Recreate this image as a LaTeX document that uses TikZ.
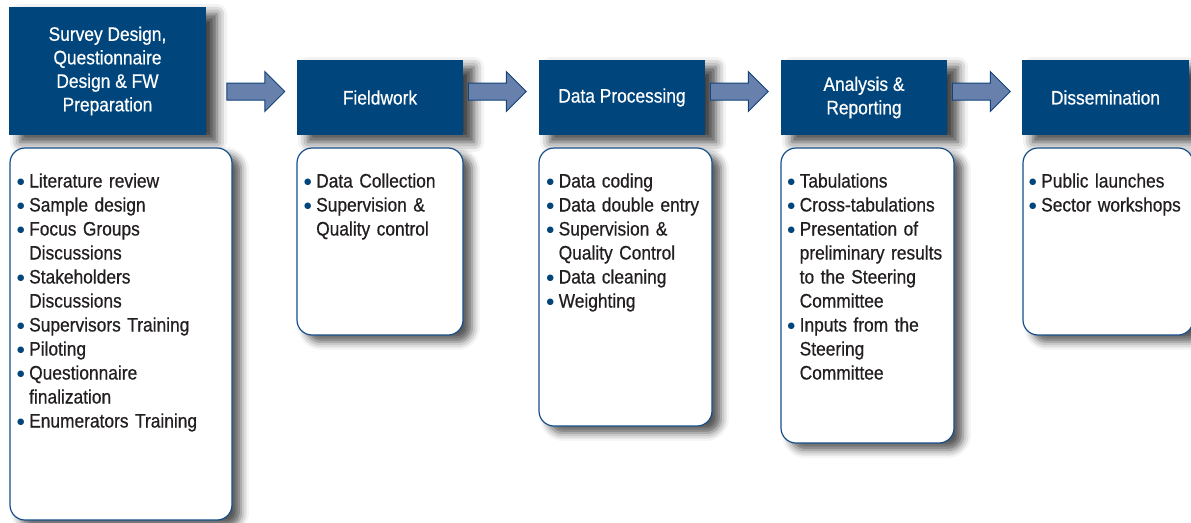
\documentclass[tikz,border=0pt]{standalone}
\usepackage{fontspec}
\setmainfont{Liberation Sans}[FakeStretch=0.89,FakeBold=0.6]
\newfontfamily\bulfont{DejaVu Sans}
\usetikzlibrary{shapes.arrows,shadows.blur}

\definecolor{hdr}{RGB}{0,69,124}
\definecolor{arw}{RGB}{104,128,172}
\definecolor{arwline}{RGB}{18,68,122}
\definecolor{bodytxt}{RGB}{35,31,32}
\definecolor{frame}{RGB}{22,78,138}

% bullet with fixed advance so item text lines up
\newcommand\bul{\makebox[12.5pt][l]{\hspace*{0.5pt}\raisebox{3.4pt}{\textcolor{hdr}{\bulfont\fontsize{8.5}{8.5}\selectfont ●}}}}
\newcommand\cont{\hspace*{12.5pt}}

\tikzset{
  phase/.style={rectangle, fill=hdr, text=white, inner sep=0pt, align=center,
    font=\fontsize{19.5}{23.5}\selectfont,
    blur shadow={shadow xshift=11pt, shadow yshift=-7pt, shadow blur radius=10pt, shadow opacity=75}},
  tasks/.style={rectangle, rounded corners=15pt, draw=frame, line width=1.2pt, fill=white,
    blur shadow={shadow xshift=9pt, shadow yshift=-7pt, shadow blur radius=8pt, shadow opacity=65}},
  tasklist/.style={anchor=base west, inner sep=0pt, text width=210pt, align=left,
    text=bodytxt, font=\fontsize{19.5}{24}\selectfont},
  flow/.style={single arrow, draw=arwline, fill=arw, line width=1pt, inner sep=8pt,
    minimum height=58pt, single arrow head extend=11.5pt, single arrow tip angle=90}
}

\begin{document}
\begin{tikzpicture}[x=1pt,y=-1pt]
\useasboundingbox (0,0) rectangle (1191,522);

% phase headers
\node[phase, minimum width=197pt, minimum height=128pt] (h1) at (107.5,71)
  {Survey Design,\\Questionnaire\\Design \& FW\\Preparation};
\node[phase, minimum width=166pt, minimum height=75pt] (h2) at (380,97.5) {Fieldwork};
\node[phase, minimum width=166pt, minimum height=75pt] (h3) at (622,97.5) {Data Processing};
\node[phase, minimum width=166pt, minimum height=75pt] (h4) at (864,97.5) {Analysis \&\\Reporting};
\node[phase, minimum width=167pt, minimum height=75pt] (h5) at (1105.5,97.5) {Dissemination};

% arrows between phases
\node[flow] (a1) at (251.5,91.5) {};
\node[flow] (a2) at (493,91.5) {};
\node[flow] (a3) at (735,91.5) {};
\node[flow] (a4) at (977,91.5) {};

% task boxes
\draw[tasks] (10,148) rectangle (232,520);
\draw[tasks] (297,148) rectangle (463,335);
\draw[tasks] (539,148) rectangle (712,426);
\draw[tasks] (781,148) rectangle (954,443);
\draw[tasks] (1023,148) rectangle (1193,335);

% task lists
\node[tasklist] (t1) at (16.5,187.5) {%
  \bul Literature review\\
  \bul Sample design\\
  \bul Focus Groups\\\cont Discussions\\
  \bul Stakeholders\\\cont Discussions\\
  \bul Supervisors Training\\
  \bul Piloting\\
  \bul Questionnaire\\\cont finalization\\
  \bul Enumerators Training};
\node[tasklist] (t2) at (303.5,187.5) {%
  \bul Data Collection\\
  \bul Supervision \&\\\cont Quality control};
\node[tasklist] (t3) at (546,187.5) {%
  \bul Data coding\\
  \bul Data double entry\\
  \bul Supervision \&\\\cont Quality Control\\
  \bul Data cleaning\\
  \bul Weighting};
\node[tasklist] (t4) at (787,187.5) {%
  \bul Tabulations\\
  \bul Cross-tabulations\\
  \bul Presentation of\\\cont preliminary results\\\cont to the Steering\\\cont Committee\\
  \bul Inputs from the\\\cont Steering\\\cont Committee};
\node[tasklist] (t5) at (1028.5,187.5) {%
  \bul Public launches\\
  \bul Sector workshops};
\end{tikzpicture}
\end{document}
